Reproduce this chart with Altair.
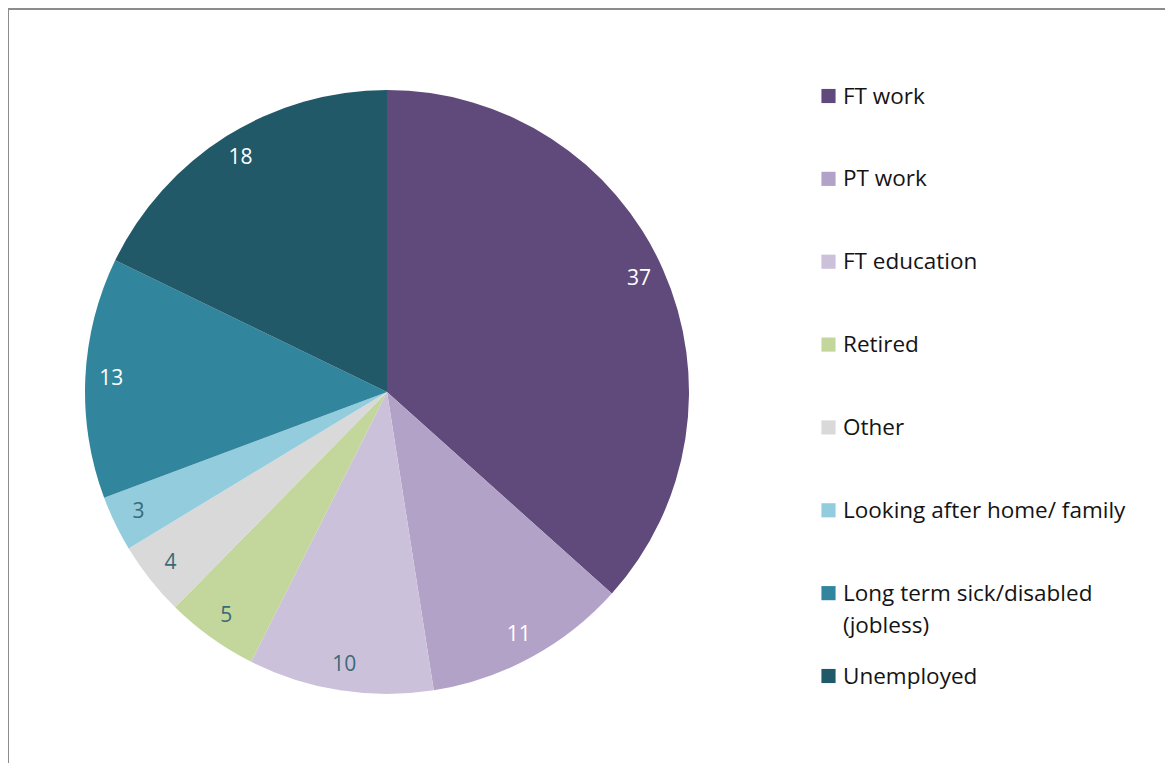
import altair as alt
import pandas as pd

categories = ["FT work", "PT work", "FT education", "Retired", "Other",
              "Looking after home/ family", "Long term sick/disabled (jobless)", "Unemployed"]
values = [37, 11, 10, 5, 4, 3, 13, 18]
legend_labels = ["FT work", "PT work", "FT education", "Retired", "Other",
                 "Looking after home/ family", "Long term sick/disabled\n(jobless)", "Unemployed"]
colors = ["#604A7B", "#B3A2C7", "#CCC1DA", "#C3D69B", "#D9D9D9",
          "#93CDDD", "#31859C", "#215968"]

df = pd.DataFrame({"cat": categories, "value": values, "order": list(range(len(categories)))})
leg = pd.DataFrame({"cat": categories, "label": legend_labels})

W, H = 1157, 755
CX, CY, R = 379, 384, 302
FONT = "Open Sans"

color = alt.Color("cat:N", scale=alt.Scale(domain=categories, range=colors), legend=None)

base = alt.Chart(df).encode(
    theta=alt.Theta("value:Q", stack=True),
    order=alt.Order("order:Q"),
    x=alt.value(CX),
    y=alt.value(CY),
)

pie = base.mark_arc(outerRadius=R).encode(color=color)

labels = base.mark_text(radius=276, font=FONT, fontSize=21).encode(
    text=alt.Text("value:Q"),
    color=alt.condition(alt.datum.value >= 11, alt.value("white"), alt.value("#3B6A78")),
)

ycat = alt.Y("cat:N", scale=alt.Scale(type="point", domain=categories, range=[88, 668], padding=0), axis=None)

leg_sym = alt.Chart(leg).mark_square(size=200, opacity=1).encode(
    x=alt.value(820.5), y=ycat, color=color
)
leg_txt = alt.Chart(leg).mark_text(
    align="left", baseline="alphabetic", dy=7.5, font=FONT, fontSize=22.5,
    lineBreak="\n", lineHeight=32, color="#141414"
).encode(x=alt.value(835), y=ycat, text="label:N")

frame_top = alt.Chart(df).mark_rule(color="#8C8C8C", strokeWidth=2).encode(
    x=alt.value(0), x2=alt.value(W), y=alt.value(1)
)
frame_left = alt.Chart(df).mark_rule(color="#8C8C8C", strokeWidth=2).encode(
    x=alt.value(0), y=alt.value(0), y2=alt.value(H)
)

chart = alt.layer(pie, labels, leg_sym, leg_txt, frame_top, frame_left).properties(
    width=W, height=H, padding=0, autosize="none"
).configure_view(stroke=None)

chart.save("out.html", embed_options={"renderer": "svg", "actions": False})
